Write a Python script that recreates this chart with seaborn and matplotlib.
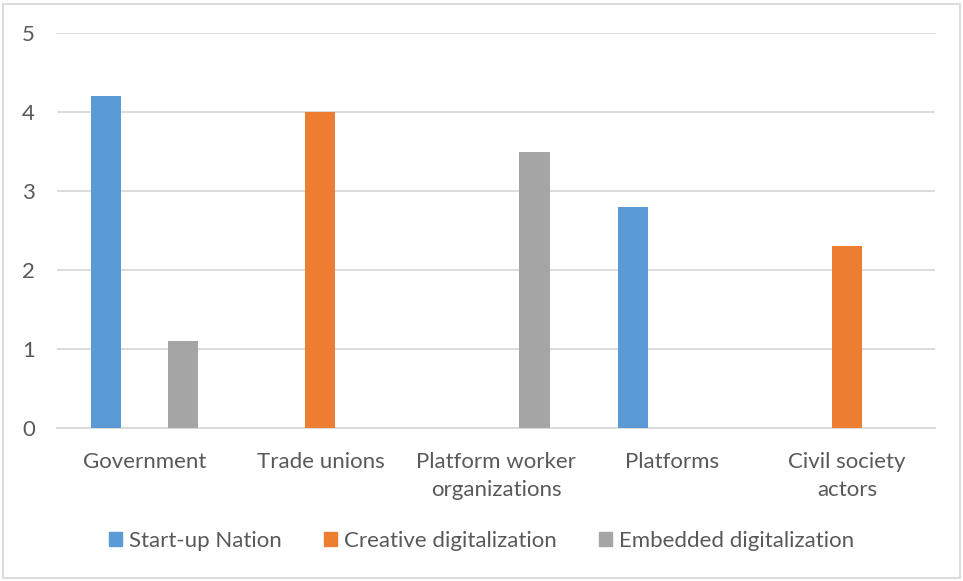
import matplotlib
matplotlib.use("Agg")
import matplotlib.pyplot as plt
import seaborn as sns
import pandas as pd
from matplotlib.patches import Rectangle

categories = ["Government", "Trade unions", "Platform worker\norganizations",
              "Platforms", "Civil society\nactors"]
series = ["Start-up Nation", "Creative digitalization", "Embedded digitalization"]
startup_nation = [4.2, 0, 0, 2.8, 0]
creative_digitalization = [0, 4.0, 0, 0, 2.3]
embedded_digitalization = [1.1, 0, 3.5, 0, 0]
y_ticks = [0, 1, 2, 3, 4, 5]

colors = ["#5B9BD5", "#ED7D31", "#A5A5A5"]
text_color = "#595959"
grid_color = "#D9D9D9"

rows = []
for name, vals in zip(series, [startup_nation, creative_digitalization, embedded_digitalization]):
    for cat, v in zip(categories, vals):
        rows.append({"category": cat, "series": name, "value": v})
df = pd.DataFrame(rows)

sns.set_theme(style="white")
plt.rcParams["font.family"] = ["Lato", "DejaVu Sans"]
fs = 16

fig = plt.figure(figsize=(9.63, 5.81), dpi=100)
ax = fig.add_axes([57 / 963, 1 - 428 / 581, (935 - 57) / 963, (428 - 33) / 581])

sns.barplot(data=df, x="category", y="value", hue="series", order=categories,
            hue_order=series, palette=colors, width=0.658, gap=0.22,
            saturation=1, errorbar=None, ax=ax, linewidth=0, zorder=3)

ax.set_ylim(0, 5)
ax.set_xlim(-0.5, len(categories) - 0.5)
ax.set_yticks(y_ticks)
ax.set_yticklabels([str(t) for t in y_ticks])
ax.yaxis.grid(True, color=grid_color, linewidth=1.3, zorder=0)
ax.set_axisbelow(True)
for side in ["top", "right", "left"]:
    ax.spines[side].set_visible(False)
ax.spines["bottom"].set_color(grid_color)
ax.spines["bottom"].set_linewidth(1.3)
ax.tick_params(axis="both", length=0, labelsize=fs, colors=text_color)
ax.tick_params(axis="y", pad=16)
ax.tick_params(axis="x", pad=17)
for lbl in ax.get_xticklabels():
    lbl.set_linespacing(1.55)
ax.set_xlabel("")
ax.set_ylabel("")

ax.legend_.remove()
handles = [Rectangle((0, 0), 1, 1, color=c) for c in colors]
fig.legend(handles, series, loc="center", bbox_to_anchor=(0.5, 1 - 541 / 581),
           ncol=3, frameon=False, fontsize=fs, labelcolor=text_color,
           handlelength=0.6, handleheight=0.6, handletextpad=0.3,
           columnspacing=1.9)

fig.patches.append(Rectangle((3 / 963, 3 / 581), 957 / 963, 574 / 581,
                             transform=fig.transFigure, fill=False,
                             edgecolor=grid_color, linewidth=1.3))

fig.savefig("out.png", dpi=100)
